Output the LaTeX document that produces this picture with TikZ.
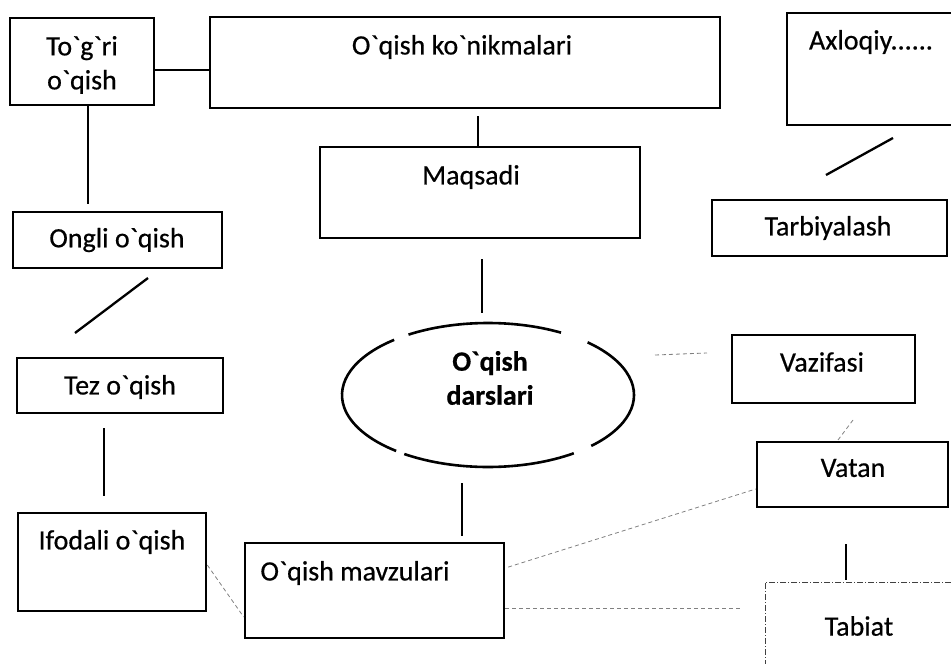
\documentclass[tikz,border=0pt]{standalone}
\usepackage{fontspec}
\setmainfont{Carlito}[Ligatures=TeXOff, FakeBold=0.5]
\usetikzlibrary{shapes.geometric}
\begin{document}
\begin{tikzpicture}[x=1pt,y=-1pt,
  box/.style={draw, line width=2.6pt, rectangle, inner sep=0pt},
  tbox/.style={draw=black!75, line width=0.9pt, rectangle, inner sep=0pt, dash pattern=on 6pt off 2pt on 1pt off 2pt},
  lbl/.style={font=\fontsize{28}{34}\selectfont, align=center, inner sep=0pt},
  conn/.style={line width=2.3pt},
  faint/.style={draw=black!50, line width=0.8pt, dash pattern=on 4pt off 3pt},
]
\useasboundingbox (0,0) rectangle (951,664);
\clip (0,0) rectangle (951,664);

% boxes
\node[box, minimum width=144pt, minimum height=87pt] (tog) at (82,61.5) {};
\node[box, minimum width=510pt, minimum height=91pt] (kon) at (465,62.5) {};
\node[box, minimum width=166pt, minimum height=112pt] (axl) at (870,69) {};
\node[box, minimum width=320pt, minimum height=91pt] (maq) at (480,192.5) {};
\node[box, minimum width=235pt, minimum height=56pt] (tar) at (829.5,228) {};
\node[box, minimum width=209pt, minimum height=56pt] (ong) at (117.5,240) {};
\node[box, minimum width=206pt, minimum height=55pt] (tez) at (120,385.5) {};
\node[box, minimum width=188pt, minimum height=98pt] (ifo) at (112,562) {};
\node[box, minimum width=183pt, minimum height=68pt] (vaz) at (823.5,369) {};
\node[box, minimum width=191pt, minimum height=65pt] (vat) at (852.5,474.5) {};
\node[box, minimum width=259pt, minimum height=95pt] (mav) at (374.5,590.5) {};
\node[tbox, minimum width=200pt, minimum height=138pt] (tab) at (865,651) {};
\node[ellipse, minimum width=292pt, minimum height=144pt, inner sep=0pt] (ell) at (488,395) {};

% ellipse drawn with gaps
\begin{scope}[line width=2.6pt]
\draw ([shift={(-60:146 and 72)}]ell.center) arc[start angle=-60, end angle=-123, x radius=146, y radius=72];
\draw ([shift={(-130:146 and 72)}]ell.center) arc[start angle=-130, end angle=-231, x radius=146, y radius=72];
\draw ([shift={(-235:146 and 72)}]ell.center) arc[start angle=-235, end angle=-306, x radius=146, y radius=72];
\draw ([shift={(-315:146 and 72)}]ell.center) arc[start angle=-315, end angle=-407, x radius=146, y radius=72];
\end{scope}

% texts
\node[lbl] (togt) at (82,65) {To`g`ri\\o`qish};
\node[lbl] (kont) at (462,47) {O`qish ko`nikmalari};
\node[lbl] (axlt) at (871,42) {Axloqiy......};
\node[lbl] (maqt) at (471,177) {Maqsadi};
\node[lbl] (tart) at (828,228) {Tarbiyalash};
\node[lbl] (ongt) at (117,240) {Ongli o`qish};
\node[lbl] (tezt) at (120,387) {Tez o`qish};
\node[lbl] (ifot) at (112,542) {Ifodali o`qish};
\node[lbl, font=\fontsize{28}{34}\selectfont\bfseries] (ellt) at (490,378) {O`qish\\darslari};
\node[lbl] (vazt) at (822,362) {Vazifasi};
\node[lbl] (vatt) at (853,468) {Vatan};
\node[lbl] (mavt) at (355,573) {O`qish mavzulari};
\node[lbl] (tabt) at (859,626) {Tabiat};

% solid connectors
\draw[conn] (tog.east |- 0,70) -- (kon.west |- 0,70);
\draw[conn, shorten <=7pt] (478,0 |- kon.south) -- (478,0 |- maq.north);
\draw[conn, shorten >=7pt] (88,0 |- tog.south) -- (88,0 |- ong.north);
\coordinate (d1a) at (148,278);
\coordinate (d1b) at (75,333);
\draw[conn] (d1a) -- (d1b);
\draw[conn, shorten <=14pt, shorten >=16pt] (104,0 |- tez.south) -- (104,0 |- ifo.north);
\draw[conn, shorten <=20pt, shorten >=10pt] (482,0 |- maq.south) -- (482,0 |- ell.north);
\draw[conn, shorten <=16pt, shorten >=6pt] (462,0 |- ell.south) -- (462,0 |- mav.north);
\coordinate (d2a) at (893,138);
\coordinate (d2b) at (826,175);
\draw[conn] (d2a) -- (d2b);
\draw[conn, shorten <=36pt, shorten >=2pt] (846,0 |- vat.south) -- (846,0 |- tab.north);

% faint dashed connectors
\draw[faint] (ifo.east |- 0,565) -- (mav.west |- 0,617);
\draw[faint, shorten <=3pt] (mav.east |- 0,568) -- (vat.west |- 0,489);
\draw[faint, shorten >=23pt] (mav.east |- 0,608) -- (tab.west |- 0,608);
\coordinate (f1a) at (853,420);
\coordinate (f1b) at (838,440);
\draw[faint] (f1a) -- (f1b);
\coordinate (f2a) at (655,355);
\coordinate (f2b) at (707,353);
\draw[faint] (f2a) -- (f2b);
\end{tikzpicture}
\end{document}
